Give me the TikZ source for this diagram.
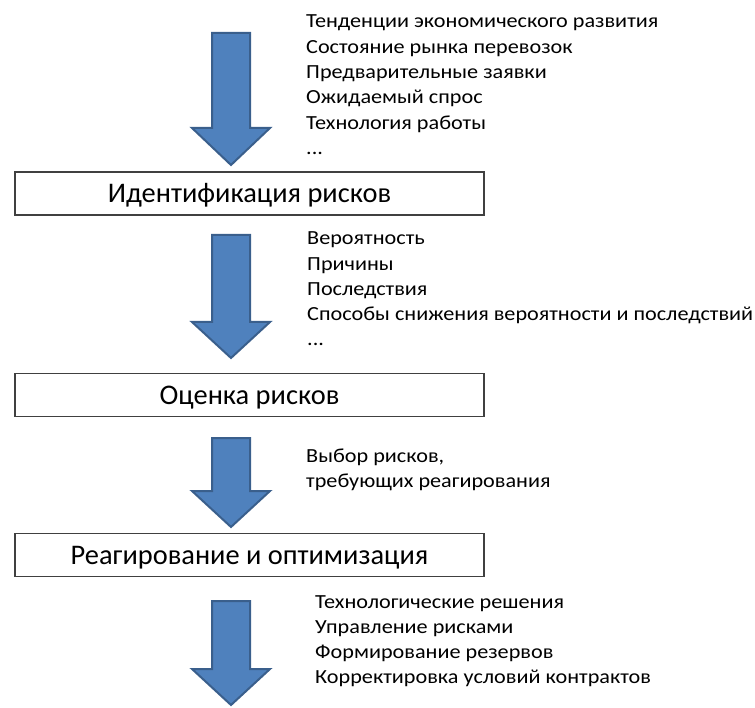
\documentclass[tikz,border=0pt]{standalone}
\usepackage{fontspec}
\setmainfont{Carlito}
\newfontfamily\listfont[FakeStretch=1.11]{Carlito}
\definecolor{arrowfill}{HTML}{4F81BD}
\definecolor{arrowedge}{HTML}{3A5F8C}
\definecolor{boxedge}{HTML}{404040}
% Block arrow pointing down: #1 top, #2 start of head, #3 tip (y values)
\newcommand\flowarrow[3]{%
  \draw[blockarrow] (212,#1) -- (250,#1) -- (250,#2) -- (270,#2) -- (231,#3)
    -- (192,#2) -- (212,#2) -- cycle;}
\begin{document}
\begin{tikzpicture}[x=1pt,y=-1pt,
  blockarrow/.style={fill=arrowfill,draw=arrowedge,line width=2pt,line join=miter},
  stagebox/.style={draw=boxedge,line width=1.2pt,fill=white,minimum width=469pt,
    minimum height=43pt,inner sep=0pt,text height=24pt,text depth=5pt,
    font=\fontsize{28.4}{30}\selectfont},
  listline/.style={anchor=base west,inner sep=0pt,font=\listfont\fontsize{20}{24}\selectfont}]
\useasboundingbox (0,0) rectangle (755,708);

% stages
\node[stagebox] (s1) at (249.5,193.5) {Идентификация рисков};
\node[stagebox] (s2) at (249.5,395) {Оценка рисков};
\node[stagebox] (s3) at (249.5,555) {Реагирование и оптимизация};

% arrows between stages
\flowarrow{33}{128}{165}
\flowarrow{235}{322}{358}
\flowarrow{438}{491}{527}
\flowarrow{601}{669}{705}

% inputs of each stage
\foreach \t [count=\i] in {Тенденции экономического развития,
    Состояние рынка перевозок,Предварительные заявки,Ожидаемый спрос,
    Технология работы}
  \node[listline] (a\i) at (306,{28+25.3*(\i-1)}) {\t};
\node[listline] (a6) at (306,154.5) {...};
\foreach \t [count=\i] in {Вероятность,Причины,Последствия,
    Способы снижения вероятности и последствий}
  \node[listline] (b\i) at (307,{245+25.3*(\i-1)}) {\t};
\node[listline] (b5) at (307,346) {...};
\foreach \t [count=\i] in {{Выбор рисков,},требующих реагирования}
  \node[listline] (c\i) at (306,{462+25*(\i-1)}) {\t};
\foreach \t [count=\i] in {Технологические решения,Управление рисками,
    Формирование резервов,Корректировка условий контрактов}
  \node[listline] (d\i) at (315,{608+25.2*(\i-1)}) {\t};
\end{tikzpicture}
\end{document}
